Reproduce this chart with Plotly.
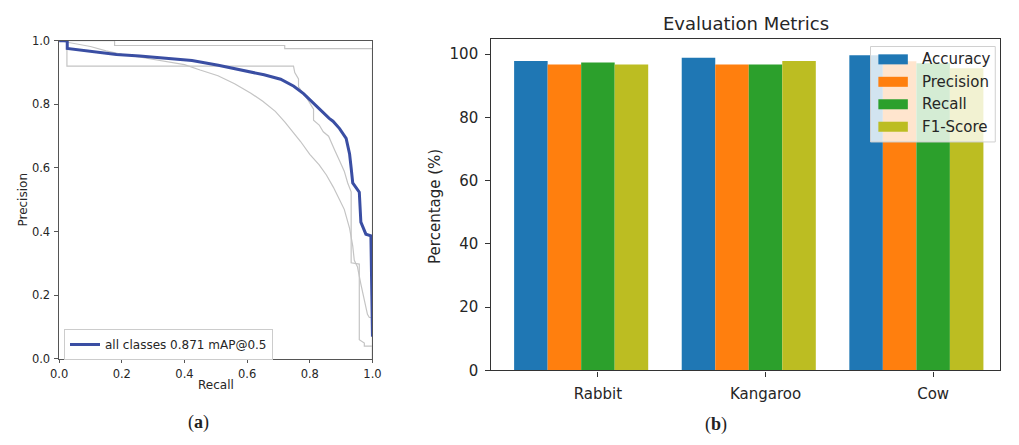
import plotly.graph_objects as go

# ---------------- Panel (a): precision-recall curves ----------------
cls1_recall = [0.0, 0.177, 0.177, 0.72, 0.72, 1.0, 1.0]
cls1_precision = [1.0, 1.0, 0.985, 0.985, 0.975, 0.975, 0.0]

cls2_recall = [0.0, 0.025, 0.025, 0.748, 0.752, 0.764, 0.764, 0.79, 0.812, 0.812, 0.83, 0.843,
               0.86, 0.868, 0.88, 0.895, 0.91, 0.921, 0.932, 0.932, 0.953, 0.958, 0.958, 0.974,
               0.974, 1.0, 1.0]
cls2_precision = [1.0, 1.0, 0.92, 0.92, 0.90, 0.88, 0.855, 0.82, 0.785, 0.75, 0.735, 0.714,
                  0.70, 0.684, 0.655, 0.623, 0.59, 0.553, 0.525, 0.302, 0.298, 0.298, 0.06, 0.05,
                  0.04, 0.04, 0.0]

cls3_recall = [0.0, 0.025, 0.06, 0.1, 0.15, 0.2, 0.26, 0.34, 0.40, 0.45, 0.507, 0.56, 0.612,
               0.65, 0.69, 0.72, 0.75, 0.77, 0.80, 0.83, 0.853, 0.875, 0.895, 0.91, 0.927,
               0.937, 0.942, 0.952, 0.963, 0.974, 0.984, 0.99, 1.0, 1.0]
cls3_precision = [1.0, 0.995, 0.99, 0.982, 0.968, 0.957, 0.948, 0.936, 0.925, 0.908, 0.89,
                  0.865, 0.835, 0.81, 0.778, 0.745, 0.71, 0.684, 0.643, 0.61, 0.578, 0.54, 0.50,
                  0.47, 0.41, 0.355, 0.31, 0.29, 0.235, 0.19, 0.14, 0.13, 0.13, 0.0]

all_recall = [0.0, 0.026, 0.026, 0.1, 0.183, 0.257, 0.34, 0.424, 0.508, 0.592, 0.654, 0.707,
              0.749, 0.78, 0.812, 0.843, 0.862, 0.874, 0.895, 0.916, 0.927, 0.932, 0.937,
              0.958, 0.963, 0.979, 0.995, 0.998, 1.0]
all_precision = [1.0, 1.0, 0.976, 0.968, 0.957, 0.952, 0.946, 0.938, 0.923, 0.906, 0.893,
                 0.879, 0.857, 0.834, 0.804, 0.772, 0.756, 0.747, 0.724, 0.693, 0.644, 0.6,
                 0.553, 0.524, 0.43, 0.392, 0.387, 0.2, 0.07]
all_label = "all classes 0.871 mAP@0.5"

pr_ticks = [0.0, 0.2, 0.4, 0.6, 0.8, 1.0]

# ---------------- Panel (b): evaluation metrics ----------------
categories = ["Rabbit", "Kangaroo", "Cow"]
accuracy = [97.8, 98.8, 99.6]
precision = [96.7, 96.7, 97.7]
recall = [97.3, 96.7, 97.1]
f1_score = [96.7, 97.8, 95.5]
metric_names = ["Accuracy", "Precision", "Recall", "F1-Score"]
metric_values = [accuracy, precision, recall, f1_score]
metric_colors = ["#1f77b4", "#ff7f0e", "#2ca02c", "#bcbd22"]
pct_ticks = [0, 20, 40, 60, 80, 100]

W, H = 1019, 445
FONT = "DejaVu Sans"
TXT = "#262626"


def px(x):
    return x / W


def py(y):
    return (H - y) / H


fig = go.Figure()

for r, p in [(cls1_recall, cls1_precision), (cls2_recall, cls2_precision),
             (cls3_recall, cls3_precision)]:
    fig.add_trace(go.Scatter(x=r, y=p, mode="lines", line=dict(color="#c4c4c4", width=1.2),
                             showlegend=False, hoverinfo="skip", xaxis="x", yaxis="y"))
fig.add_trace(go.Scatter(x=all_recall, y=all_precision, mode="lines",
                         line=dict(color="#3a4ea3", width=3), name=all_label,
                         xaxis="x", yaxis="y"))

bar_width = 0.2
for i, (name, vals, col) in enumerate(zip(metric_names, metric_values, metric_colors)):
    fig.add_trace(go.Bar(x=list(range(len(categories))), y=vals, width=bar_width,
                         offset=-0.5 + i * bar_width, marker=dict(color=col, line=dict(width=0)),
                         name=name, showlegend=False, xaxis="x2", yaxis="y2"))


def axis_style(size, ticklen, standoff, color):
    return dict(showgrid=False, zeroline=False, showline=True, mirror=True,
                linecolor=color, linewidth=1.2, ticks="outside", ticklen=ticklen,
                tickwidth=1, tickcolor=color, ticklabelstandoff=standoff,
                tickfont=dict(family=FONT, color=TXT, size=size))


fig.update_layout(
    width=W, height=H, margin=dict(l=0, r=0, t=0, b=0),
    paper_bgcolor="white", plot_bgcolor="white", barmode="overlay",
    xaxis=dict(domain=[px(51), px(370)], range=[0, 1], tickvals=pr_ticks, tickformat=".1f",
               anchor="y", **axis_style(11.5, 3.5, 1, "#555555")),
    yaxis=dict(domain=[py(365), py(35)], range=[0, 1], tickvals=pr_ticks, tickformat=".1f",
               anchor="x", **axis_style(11.5, 3.5, 2, "#555555")),
    xaxis2=dict(domain=[px(491), px(1009)], range=[-0.636, 2.40],
                tickvals=list(range(len(categories))), ticktext=categories, anchor="y2",
                **axis_style(15, 5, 4, "#333333")),
    yaxis2=dict(domain=[py(377), py(33)], range=[0, 104.8], tickvals=pct_ticks, anchor="x2",
                **axis_style(15, 5, 4, "#333333")),
    legend=dict(x=px(56), y=py(334), xanchor="left", yanchor="top",
                bgcolor="rgba(255,255,255,0.8)", bordercolor="#cccccc", borderwidth=1,
                font=dict(family=FONT, size=12, color=TXT), itemwidth=30,
                tracegroupgap=0),
    font=dict(family=FONT, color=TXT),
)

annotations = [
    dict(text="Precision", x=px(14), y=py(200), textangle=-90, font=dict(size=12)),
    dict(text="Recall", x=px(211), y=py(392), font=dict(size=12)),
    dict(text="Evaluation Metrics", x=px(750), y=py(17), font=dict(size=18)),
    dict(text="Percentage (%)", x=px(433), y=py(207), textangle=-90, font=dict(size=15)),
    dict(text="(<b>a</b>)", x=px(193), y=py(431),
         font=dict(size=18, family="Liberation Serif", color="#222222")),
    dict(text="(<b>b</b>)", x=px(720), y=py(433),
         font=dict(size=18, family="Liberation Serif", color="#222222")),
]
for a in annotations:
    a.update(xref="paper", yref="paper", showarrow=False, xanchor="center", yanchor="middle")
    a["font"] = {"family": FONT, "color": TXT, **a["font"]}

# legend for panel (b), drawn in matplotlib style
shapes = [dict(type="rect", xref="paper", yref="paper", x0=px(877), x1=px(1004),
               y0=py(140), y1=py(41), fillcolor="rgba(255,255,255,0.8)",
               line=dict(color="#d0d0d0", width=1), layer="above")]
for i, (name, col) in enumerate(zip(metric_names, metric_colors)):
    yc = 54.3 + i * 23.3
    shapes.append(dict(type="rect", xref="paper", yref="paper", x0=px(885), x1=px(915),
                       y0=py(yc + 5.2), y1=py(yc - 5.2), fillcolor=col, line=dict(width=0),
                       layer="above"))
    annotations.append(dict(text=name, x=px(927), y=py(yc), xref="paper", yref="paper",
                            showarrow=False, xanchor="left", yanchor="middle",
                            font=dict(family=FONT, color=TXT, size=15)))

fig.update_layout(annotations=annotations, shapes=shapes)
fig.write_html("out.html")
